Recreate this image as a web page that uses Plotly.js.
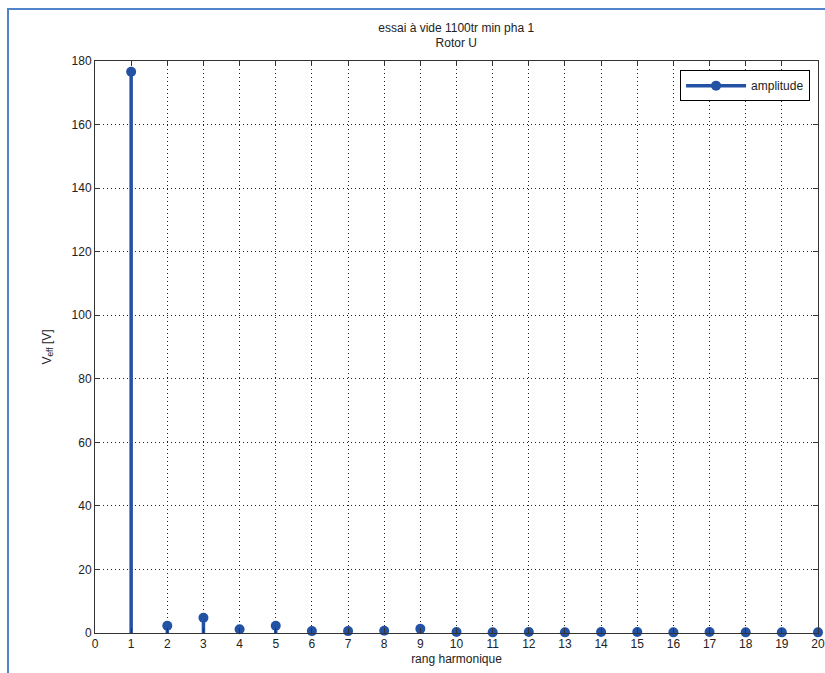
<!DOCTYPE html>
<html>
<head>
<meta charset="utf-8">
<script src="https://cdn.plot.ly/plotly-3.0.1.min.js"></script>
<style>
html,body{margin:0;padding:0;background:#fff;}
#chart{position:absolute;left:0;top:0;width:825px;height:673px;}
#frame{position:absolute;left:7px;top:8px;width:830px;height:680px;border-left:2px solid #4f84cc;border-top:2px solid #4f84cc;pointer-events:none;}
</style>
</head>
<body>
<div id="chart"></div>
<div id="frame"></div>
<script>
const harmonics = [1,2,3,4,5,6,7,8,9,10,11,12,13,14,15,16,17,18,19,20];
const amplitude = [176.6,2.3,4.8,1.2,2.3,0.6,0.6,0.7,1.3,0.3,0.2,0.3,0.2,0.3,0.3,0.2,0.3,0.2,0.2,0.2];
const titleText = 'essai à vide 1100tr min pha 1<br>Rotor U';
const xLabel = 'rang harmonique';
const yLabel = 'V<sub>eff</sub> [V]';
const seriesName = 'amplitude';

const blue = '#2352a5';
const sx = [], sy = [], mx = [], my = [];
harmonics.forEach((h, i) => {
  sx.push(h, h, null); sy.push(0, amplitude[i], null);
  mx.push(h, null); my.push(amplitude[i], null);
});

const traces = [
  {x: sx, y: sy, mode: 'lines', line: {color: blue, width: 3.5}, showlegend: false, hoverinfo: 'skip', cliponaxis: false},
  {x: mx, y: my, mode: 'lines+markers', name: seriesName, connectgaps: false,
   line: {color: blue, width: 3.5}, marker: {color: blue, size: 10, symbol: 'circle'}, cliponaxis: false}
];

const font = {family: 'Liberation Sans, Arial, sans-serif', size: 12, color: '#222'};
const layout = {
  width: 825, height: 673,
  margin: {l: 95, r: 7, t: 61, b: 40},
  paper_bgcolor: '#fff', plot_bgcolor: '#fff',
  font: font,
  title: {text: titleText, x: 0.553, xanchor: 'center', y: 0.953, yanchor: 'top', font: {family: font.family, size: 12, color: '#222'}},
  showlegend: true,
  legend: {x: 0.989, xanchor: 'right', y: 0.984, yanchor: 'top', bordercolor: '#000', borderwidth: 1, bgcolor: '#fff', itemwidth: 60, font: {size: 12, color: '#222'}},
  xaxis: {range: [0, 20], dtick: 1, tick0: 0, showgrid: true, gridcolor: '#222', griddash: '1px,3px', gridwidth: 1,
          showline: true, linecolor: '#333', linewidth: 1, mirror: 'ticks', ticks: 'inside', ticklen: 5, tickcolor: '#333',
          zeroline: false, title: {text: xLabel, standoff: 4, font: {size: 12}}, fixedrange: true},
  yaxis: {range: [0, 180], dtick: 20, tick0: 0, showgrid: true, gridcolor: '#222', griddash: '1px,3px', gridwidth: 1,
          showline: true, linecolor: '#333', linewidth: 1, mirror: 'ticks', ticks: 'inside', ticklen: 5, tickcolor: '#333',
          zeroline: false, title: {text: yLabel, standoff: 17, font: {size: 12}}, fixedrange: true}
};
Plotly.newPlot('chart', traces, layout, {displayModeBar: false, staticPlot: true});
</script>
</body>
</html>
